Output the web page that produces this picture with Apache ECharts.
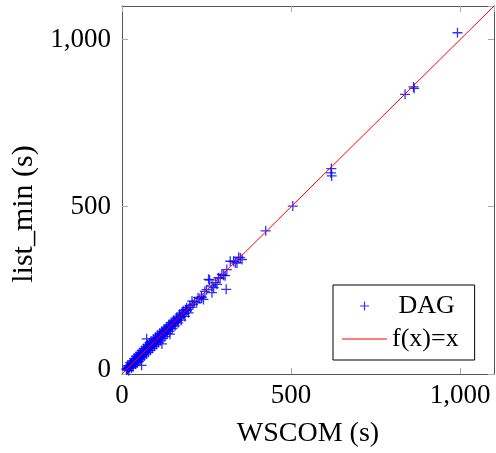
<!DOCTYPE html>
<html><head><meta charset="utf-8">
<script src="https://cdn.jsdelivr.net/npm/echarts@6/dist/echarts.min.js"></script>
<style>html,body{margin:0;padding:0;background:#fff}#c{width:496px;height:453px}</style>
</head><body><div id="c"></div>
<script>
const xTicks = [0, 500, 1000];
const yTicks = [0, 500, 1000];
const dagPoints = [
[13,15],[14,12],[15,17],[16,14],[17,16],[18,20],[19,17],[20,22],[21,19],[22,24],[23,21],[24,23],[25,28],[26,24],[27,25],[28,31],[29,27],[30,29],[31,34],[32,30],[33,31],[34,37],[35,33],[36,35],[37,40],[38,36],[39,38],[40,44],[41,39],[42,40],[43,46],[44,42],[45,43],[46,49],[47,45],[48,47],[49,52],[50,48],[51,50],[52,55],[53,51],[54,52],[55,58],[56,54],[57,55],[58,26],[58,62],[59,57],[60,59],[62,65],[63,60],[64,62],[65,68],[66,64],[67,66],[68,72],[69,66],[70,69],[72,76],[73,105],[73,70],[74,72],[75,79],[76,74],[78,76],[79,83],[80,78],[82,80],[83,87],[84,81],[85,84],[87,91],[88,85],[90,88],[91,95],[92,89],[94,92],[95,99],[96,93],[98,96],[100,104],[101,97],[103,100],[104,108],[106,103],[108,106],[110,114],[111,107],[113,110],[115,119],[116,112],[118,90],[118,116],[120,124],[122,118],[124,121],[126,130],[128,124],[130,127],[132,136],[134,130],[136,133],[138,142],[140,137],[142,119],[142,146],[144,141],[146,143],[148,152],[150,146],[152,150],[155,158],[157,154],[160,157],[162,166],[165,161],[168,165],[170,174],[173,169],[176,172],[178,183],[182,179],[185,181],[188,192],[192,189],[195,193],[200,204],[203,199],[207,218],[210,208],[215,217],[221,213],[225,228],[230,226],[235,232],[236,228],[241,223],[245,247],[250,252],[256,283],[259,281],[266,263],[266,243],[271,258],[276,273],[281,268],[285,288],[290,286],[295,298],[300,295],[305,294],[308,253],[310,312],[320,337],[330,337],[335,332],[340,332],[345,349],[350,347],[355,342],[425,428],[505,502],[619,614],[618,601],[620,592],[837,836],[864,854],[862,858],[992,1020],
[16,25],[20,10],[24,34],[28,18],[30,40],[33,22],[36,46],[40,29],[42,53],[45,33],[48,59],[50,38],[53,64],[55,44],[58,70],[61,49],[64,76],[66,54],[70,82],[72,60],[75,88],[78,65],[81,93],[84,71],[86,98],[90,77],[93,104],[96,83],[99,110],[102,88],[105,116],[108,94],[111,121],[114,100],[117,127],[121,106],[124,134],[127,112],[131,140],[134,121],[138,147],[141,128],[145,154],[149,136],[153,161],[157,144],[162,170],[166,153],[171,179],[175,161],[181,189],[186,172],[191,198],[197,183]
];
const identityLine = [[0,0],[1100,1100]];

const font = 'Liberation Serif';
const fmt = v => v === 0 ? '0' : String(v).replace(/\B(?=(\d{3})+(?!\d))/g, ',');
const plus = 'path://M4.35,0h1.3v4.35h4.35v1.3h-4.35v4.35h-1.3v-4.35h-4.35v-1.3h4.35z';
const lineIcon = 'path://M0,0h45v1h-45z';
const chart = echarts.init(document.getElementById('c'), null, {renderer:'canvas'});
const axisLine = {show:true, onZero:false, lineStyle:{color:'#555', width:1}};
const axisTick = {show:true, inside:true, length:6, lineStyle:{color:'#aaa', width:1}};
chart.setOption({
  animation:false,
  grid:{left:122, top:6, width:372, height:371, containLabel:false},
  legend:{
    orient:'vertical', left:333, top:285,
    padding:[8,16,8,9], itemGap:7,
    backgroundColor:'#fff', borderColor:'#000', borderWidth:1,
    itemWidth:45, itemHeight:9,
    textStyle:{fontFamily:font, fontSize:26, lineHeight:26, color:'#000'},
    formatter: n => n === 'DAG' ? ' DAG' : n,
    data:[{name:'DAG', icon:plus},{name:'f(x)=x', icon:lineIcon}]
  },
  xAxis:[{
    type:'value', min:0, max:1100, interval:500,
    name:'WSCOM (s)', nameLocation:'middle', nameGap:46,
    nameTextStyle:{fontFamily:font, fontSize:28, color:'#000'},
    axisLine, axisTick, splitLine:{show:false},
    axisLabel:{fontFamily:font, fontSize:27, color:'#000', margin:8, formatter:fmt, showMaxLabel:false}
  },{
    type:'value', position:'top', min:0, max:1100, interval:500,
    axisLine, axisTick, splitLine:{show:false}, axisLabel:{show:false}
  }],
  yAxis:[{
    type:'value', min:0, max:1100, interval:500,
    name:'list_min (s)', nameLocation:'middle', nameGap:80,
    nameTextStyle:{fontFamily:font, fontSize:30, color:'#000', padding:[0,48,0,0]},
    axisLine, axisTick, splitLine:{show:false},
    axisLabel:{fontFamily:font, fontSize:27, color:'#000', margin:11, showMaxLabel:false,
      formatter: v => v === 0 ? '{z|0}' : fmt(v),
      rich:{z:{fontFamily:font, fontSize:27, color:'#000', padding:[0,0,9,0]}}}
  },{
    type:'value', position:'right', min:0, max:1100, interval:500,
    axisLine, axisTick, splitLine:{show:false}, axisLabel:{show:false}
  }],
  series:[{
    name:'DAG', type:'scatter', data:dagPoints, symbol:plus, symbolSize:10,
    itemStyle:{color:'#0000ff'}, clip:true
  },{
    name:'f(x)=x', type:'line', data:identityLine, symbol:'none',
    lineStyle:{color:'#ff0000', width:1}, itemStyle:{color:'#ff0000'}, z:3
  }]
});
</script></body></html>
